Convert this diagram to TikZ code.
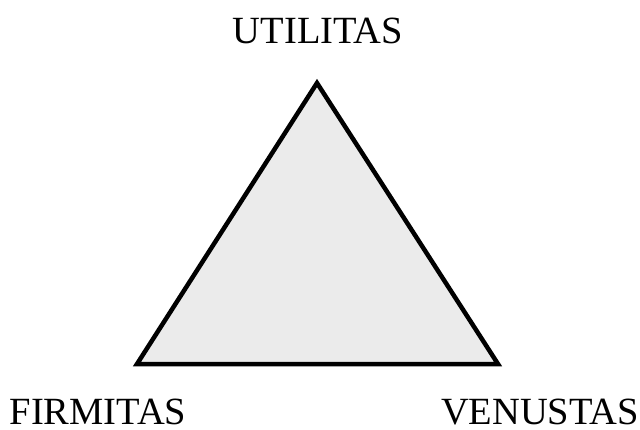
\documentclass[tikz,border=0pt]{standalone}
\usepackage{fontspec}
\setmainfont{Liberation Serif}
\begin{document}
\begin{tikzpicture}[x=1pt,y=-1pt,
  lbl/.style={anchor=base, inner sep=0pt, text depth=0pt, font=\fontsize{38.5}{42}\selectfont}]
\useasboundingbox (0,0) rectangle (640,430);
\coordinate (t) at (317,83);
\coordinate (l) at (137,364);
\coordinate (r) at (498,364);
\filldraw[fill={rgb,255:red,235;green,235;blue,235}, draw=black, line width=4.5pt, line join=miter] (t) -- (l) -- (r) -- cycle;
\node[lbl] (u) at (318,44) {UTILITAS};
\node[lbl] (f) at (98,424) {FIRMITAS};
\node[lbl] (v) at (540,424) {VENUSTAS};
\end{tikzpicture}
\end{document}
